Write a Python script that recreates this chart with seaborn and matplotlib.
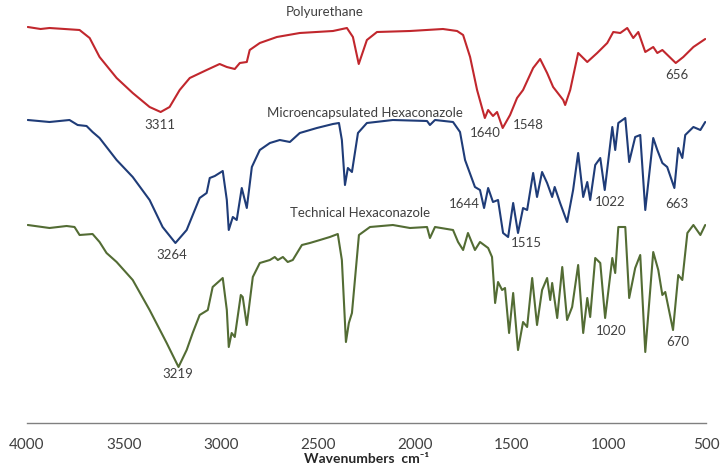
import matplotlib
matplotlib.use("Agg")
import matplotlib.pyplot as plt
import seaborn as sns
import pandas as pd

# ---- data (wavenumber in cm-1, relative transmittance with offsets) ----
pu_wn = [3996, 3930, 3884, 3806, 3729, 3677, 3626, 3538, 3455, 3368, 3311, 3265, 3213,
         3161, 3074, 3007, 2970, 2929, 2903, 2867, 2852, 2800, 2712, 2594, 2423,
         2351, 2320, 2290, 2248, 2196, 2026, 1856, 1783, 1752, 1716, 1680, 1640,
         1623, 1598, 1577, 1548, 1510, 1474, 1443, 1391, 1355, 1319, 1288, 1236,
         1226, 1200, 1159, 1112, 1061, 1009, 978, 942, 906, 875, 849, 813, 772,
         751, 725, 656, 617, 565, 504]
pu_t = [396, 394, 395, 394, 393, 385, 366, 345, 330, 316, 311, 316, 333,
        345, 353, 359, 356, 354, 360, 361, 373, 380, 386, 390, 392,
        395, 386, 359, 383, 391, 392, 394, 392, 388, 366, 333, 305,
        313, 307, 311, 295, 308, 325, 333, 355, 364, 350, 336, 323,
        318, 333, 370, 361, 370, 380, 391, 390, 395, 385, 391, 371, 376,
        370, 373, 360, 366, 376, 384]

mh_wn = [3996, 3884, 3781, 3739, 3693, 3662, 3626, 3538, 3455, 3368, 3301, 3235,
         3177, 3110, 3074, 3058, 3032, 2991, 2970, 2960, 2939, 2919, 2893, 2867,
         2841, 2800, 2748, 2697, 2645, 2594, 2506, 2423, 2392, 2377, 2361, 2346,
         2325, 2294, 2248, 2114, 1938, 1923, 1897, 1804, 1768, 1742, 1691, 1665,
         1644, 1623, 1598, 1572, 1546, 1520, 1494, 1469, 1443, 1422, 1391, 1371,
         1345, 1319, 1293, 1280, 1252, 1216, 1185, 1159, 1133, 1112, 1097, 1071,
         1045, 1022, 983, 968, 952, 916, 896, 865, 839, 813, 772, 751, 725, 700,
         663, 643, 622, 607, 565, 529, 504]
mh_t = [303, 301, 303, 298, 297, 291, 285, 263, 246, 223, 196, 180,
        193, 225, 230, 245, 247, 252, 223, 193, 206, 203, 235, 215,
        256, 273, 280, 283, 281, 290, 295, 299, 300, 283, 238, 255,
        251, 290, 300, 303, 302, 298, 303, 301, 291, 263, 236, 233,
        215, 235, 221, 223, 190, 186, 220, 190, 215, 213, 250, 226,
        251, 240, 226, 236, 220, 201, 233, 270, 226, 241, 223, 258,
        265, 233, 296, 273, 300, 305, 261, 286, 288, 213, 285, 273, 260, 256,
        235, 275, 265, 288, 296, 293, 301]

th_wn = [3996, 3884, 3796, 3755, 3729, 3662, 3626, 3590, 3538, 3455, 3368, 3280,
         3219, 3177, 3146, 3110, 3068, 3043, 2991, 2970, 2960, 2945, 2929, 2898,
         2888, 2867, 2836, 2800, 2748, 2723, 2707, 2681, 2656, 2630, 2583, 2542,
         2490, 2439, 2398, 2377, 2356, 2341, 2325, 2289, 2232, 2114, 2026, 1938,
         1923, 1897, 1804, 1778, 1752, 1727, 1691, 1665, 1623, 1603, 1587, 1572,
         1551, 1536, 1515, 1494, 1469, 1443, 1422, 1396, 1371, 1345, 1319, 1303,
         1293, 1267, 1241, 1216, 1190, 1159, 1133, 1112, 1097, 1071, 1045, 1020,
         983, 968, 952, 916, 896, 865, 839, 813, 772, 746, 725, 710, 670, 643,
         622, 596, 565, 529, 504]
th_t = [198, 195, 197, 196, 188, 189, 181, 170, 161, 143, 113, 80,
        56, 73, 90, 108, 113, 136, 145, 113, 76, 90, 86, 128,
        126, 98, 146, 160, 163, 166, 163, 166, 161, 163, 178, 180,
        183, 186, 189, 163, 81, 100, 110, 188, 196, 198, 195, 196,
        185, 196, 193, 181, 173, 190, 173, 181, 175, 166, 120, 141,
        133, 135, 90, 130, 73, 101, 96, 145, 98, 133, 145, 123,
        140, 105, 156, 103, 116, 158, 90, 125, 106, 165, 160, 105,
        165, 150, 196, 196, 125, 155, 168, 71, 171, 153, 128, 131, 93, 148,
        143, 190, 198, 188, 198]

series_names = ["Polyurethane", "Microencapsulated Hexaconazole", "Technical Hexaconazole"]
series_colors = ["#C1272D", "#1F3C78", "#536C34"]
series_label_pos = [(2465, 411), (2258, 310), (2284, 210)]

peak_labels = ["3311", "1640", "1548", "656",
               "3264", "1644", "1515", "1022", "663",
               "3219", "1020", "670"]
peak_label_wn = [3316, 1639, 1417, 648,
                 3254, 1745, 1427, 994, 652,
                 3223, 991, 648]
peak_label_t = [298, 290, 298, 348,
                168, 219, 180, 221, 219,
                49, 92, 81]

xticks = [4000, 3500, 3000, 2500, 2000, 1500, 1000, 500]

# ---- plotting ----
sns.set_theme(style="white")
plt.rcParams['font.family'] = ['Lato', 'DejaVu Sans']

fig = plt.figure(figsize=(7.2, 4.68), dpi=100)
ax = fig.add_axes([27 / 720, 45 / 468, 679 / 720, 423 / 468])

frames = [pd.DataFrame({"wn": w, "t": t}) for w, t in [(pu_wn, pu_t), (mh_wn, mh_t), (th_wn, th_t)]]
for df, name, col in zip(frames, series_names, series_colors):
    sns.lineplot(data=df, x="wn", y="t", color=col, linewidth=1.5, ax=ax,
                 estimator=None, sort=True, label=None,
                 solid_joinstyle="round", solid_capstyle="round")

for name, (x, y) in zip(series_names, series_label_pos):
    ax.text(x, y, name, ha="center", va="center", fontsize=9.5, color="#404040")
for lab, x, y in zip(peak_labels, peak_label_wn, peak_label_t):
    ax.text(x, y, lab, ha="center", va="center", fontsize=9.5, color="#404040")

ax.set_xlim(4000, 500)
ax.set_ylim(0, 423)
ax.set_xticks(xticks)
ax.set_xticklabels([str(v) for v in xticks], fontsize=11, color="#404040")
ax.set_yticks([])
ax.set_xlabel("Wavenumbers  cm\u207b\u00b9", fontsize=10, fontweight="bold", color="#262626")
ax.xaxis.set_label_coords(0.5, (423 - 459) / 423)
ax.xaxis.label.set_va("center")
ax.set_ylabel("")
for s in ["top", "right", "left"]:
    ax.spines[s].set_visible(False)
ax.spines["bottom"].set_color("#808080")
ax.spines["bottom"].set_linewidth(1.0)
ax.tick_params(axis="x", direction="inout", length=5, width=1, color="#808080", pad=8)
ax.set_facecolor("none")
leg = ax.get_legend()
if leg:
    leg.remove()

fig.savefig("out.png", dpi=100)
